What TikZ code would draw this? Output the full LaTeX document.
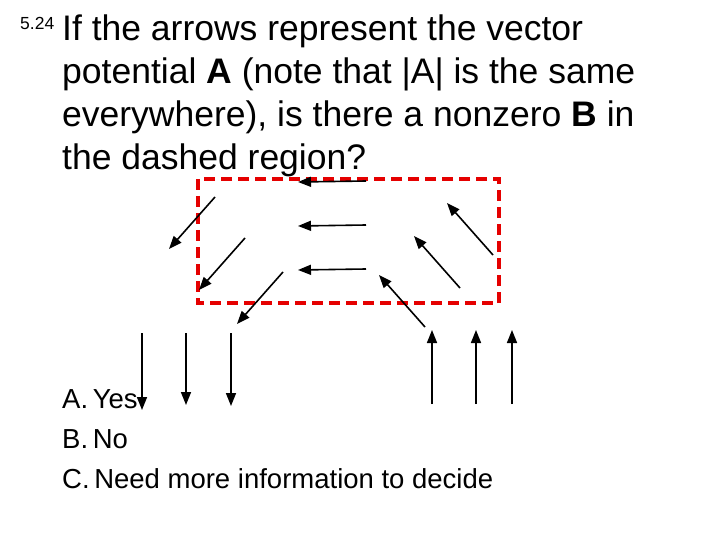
\documentclass[tikz,border=0pt]{standalone}
\usepackage{fontspec}
\setmainfont{Liberation Sans}
\usetikzlibrary{arrows.meta}
\begin{document}
\begin{tikzpicture}[x=1pt,y=-1pt,
  vec/.style={line width=1.6pt,-{Triangle[length=13pt,width=10pt]}},
  txt/.style={anchor=base west,inner sep=0pt}]
\useasboundingbox (0,0) rectangle (720,540);
\node[txt,font=\fontsize{17.5}{20}\selectfont] (num) at (20,30) {5.24};
\node[txt,font=\fontsize{35.5}{43}\selectfont] (q) at (62,41) {If the arrows represent the vector};
\node[txt,font=\fontsize{35.5}{43}\selectfont] (q2) at (62,84) {potential \textbf{A} (note that |A| is the same};
\node[txt,font=\fontsize{35.5}{43}\selectfont] (q3) at (62,127) {everywhere), is there a nonzero \textbf{B} in};
\node[txt,font=\fontsize{35.5}{43}\selectfont] (q4) at (62,170) {the dashed region?};
\draw[red!90!black,line width=3.5pt,dash pattern=on 11pt off 6pt] (198,179) rectangle (499,303);
\foreach \i/\y in {a/181,b/225,c/269}{
  \coordinate (h\i1) at (366,\y); \coordinate (h\i2) at (298,\y+1);
  \draw[vec] (h\i1) -- (h\i2);}
\foreach \i/\x/\y in {a/215/197,b/245/238,c/283/272}{
  \coordinate (l\i1) at (\x,\y); \coordinate (l\i2) at (\x-46,\y+52);
  \draw[vec] (l\i1) -- (l\i2);}
\foreach \i/\x/\y in {a/493/255,b/460/288,c/425/327}{
  \coordinate (r\i1) at (\x,\y); \coordinate (r\i2) at (\x-46,\y-52);
  \draw[vec] (r\i1) -- (r\i2);}
\foreach \i/\x/\y in {a/142/410,b/186/405,c/231/406}{
  \coordinate (d\i1) at (\x,333); \coordinate (d\i2) at (\x,\y);
  \draw[vec] (d\i1) -- (d\i2);}
\foreach \i/\x in {a/432,b/476,c/512}{
  \coordinate (u\i1) at (\x,404); \coordinate (u\i2) at (\x,330);
  \draw[vec] (u\i1) -- (u\i2);}
\node[txt,font=\fontsize{27.5}{40}\selectfont] (A) at (62,408) {A.\,Yes};
\node[txt,font=\fontsize{27.5}{40}\selectfont] (B) at (62,448) {B.\,No};
\node[txt,font=\fontsize{27.5}{40}\selectfont] (C) at (62,488) {C.\,Need more information to decide};
\end{tikzpicture}
\end{document}
